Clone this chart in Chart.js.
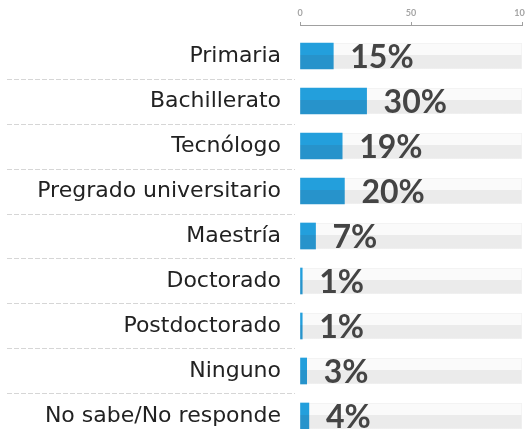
<!DOCTYPE html>
<html>
<head>
<meta charset="utf-8">
<script src="https://cdn.jsdelivr.net/npm/chart.js@4.4.0/dist/chart.umd.min.js"></script>
<style>
  html, body { margin: 0; padding: 0; background: #fff; overflow: hidden; }
  #marco { width: 525px; height: 429px; overflow: hidden; }
</style>
</head>
<body>
<div id="marco"><canvas id="grafica" width="540" height="429"></canvas></div>
<script>
// Nivel educativo, en porcentaje de respuestas
const categorias = [
  "Primaria", "Bachillerato", "Tecnólogo", "Pregrado universitario",
  "Maestría", "Doctorado", "Postdoctorado", "Ninguno", "No sabe/No responde"
];
const porcentajes = [15, 30, 19, 20, 7, 1, 1, 3, 4];
// Barra gris de fondo: la escala completa
const escalaCompleta = [100, 100, 100, 100, 100, 100, 100, 100, 100];
const ticksX = [0, 50, 100];

const GROSOR = 26;

// Relleno en dos tonos: mitad de arriba más clara que la de abajo
function dosTonos(context, arriba, abajo) {
  const chart = context.chart;
  const y = chart.scales.y;
  if (context.type !== "data" || !y) return abajo;
  const centro = y.getPixelForValue(context.dataIndex);
  if (!isFinite(centro)) return abajo;
  const g = chart.ctx.createLinearGradient(0, centro - GROSOR / 2, 0, centro + GROSOR / 2);
  g.addColorStop(0, arriba);
  g.addColorStop(0.48, arriba);
  g.addColorStop(0.48, abajo);
  g.addColorStop(1, abajo);
  return g;
}

// Líneas punteadas entre las categorías, solo en la zona de etiquetas
const separadores = {
  id: "separadores",
  beforeDatasetsDraw(chart) {
    const { ctx, chartArea, scales } = chart;
    ctx.save();
    ctx.strokeStyle = "#d6d6d6";
    ctx.lineWidth = 1;
    ctx.setLineDash([5, 2]);
    for (let i = 0; i < categorias.length - 1; i++) {
      const yy = Math.round(scales.y.getPixelForValue(i + 0.5)) + 0.5;
      ctx.beginPath();
      ctx.moveTo(7, yy);
      ctx.lineTo(chartArea.left - 5, yy);
      ctx.stroke();
    }
    ctx.restore();
  }
};

// Valor en porcentaje a la derecha de cada barra azul
const etiquetasValor = {
  id: "etiquetasValor",
  afterDatasetsDraw(chart) {
    const ctx = chart.ctx;
    const meta = chart.getDatasetMeta(0);
    ctx.save();
    ctx.font = "bold 32px Lato";
    ctx.fillStyle = "#444444";
    ctx.textAlign = "left";
    ctx.textBaseline = "middle";
    meta.data.forEach((barra, i) => {
      ctx.fillText(porcentajes[i] + "%", barra.x + 17, barra.y + 2);
    });
    ctx.restore();
  }
};

new Chart(document.getElementById("grafica"), {
  type: "bar",
  data: {
    datasets: [
      {
        data: porcentajes.map((v, i) => ({ x: v, y: i })),
        backgroundColor: c => dosTonos(c, "#239fdc", "#2793cb"),
        borderWidth: 0,
        barThickness: GROSOR,
        grouped: false,
        order: 1
      },
      {
        data: escalaCompleta.map((v, i) => ({ x: v, y: i })),
        backgroundColor: c => dosTonos(c, "#fafafa", "#ebebeb"),
        borderColor: "#f1f1f1",
        borderWidth: 1,
        barThickness: GROSOR,
        grouped: false,
        order: 2
      }
    ]
  },
  options: {
    indexAxis: "y",
    responsive: false,
    animation: false,
    layout: { padding: { left: 0, right: 18, top: 0, bottom: 0 } },
    plugins: {
      legend: { display: false },
      tooltip: { enabled: false }
    },
    scales: {
      x: {
        position: "top",
        min: 0,
        max: 100,
        afterBuildTicks: s => { s.ticks = ticksX.map(v => ({ value: v })); },
        afterFit: s => { s.height = 25; },
        grid: { drawOnChartArea: false, tickLength: 3, color: "#a0a0a0" },
        border: { color: "#a0a0a0" },
        ticks: {
          font: { family: "Lato", size: 9, weight: "bold" },
          color: "#a5a5a5",
          padding: 4,
          maxRotation: 0
        }
      },
      y: {
        type: "linear",
        reverse: true,
        offset: false,
        min: -0.689,
        max: 8.289,
        afterBuildTicks: s => { s.ticks = categorias.map((_, i) => ({ value: i })); },
        afterFit: s => {
          s.width = 300;
          s.paddingTop = 0;
          s.paddingBottom = 0;
        },
        grid: { display: false, drawTicks: false, offset: false },
        border: { display: false },
        ticks: {
          callback: v => categorias[v],
          font: { family: "DejaVu Sans", size: 22 },
          color: "#222222",
          padding: 19
        }
      }
    }
  },
  plugins: [separadores, etiquetasValor]
});
</script>
</body>
</html>
